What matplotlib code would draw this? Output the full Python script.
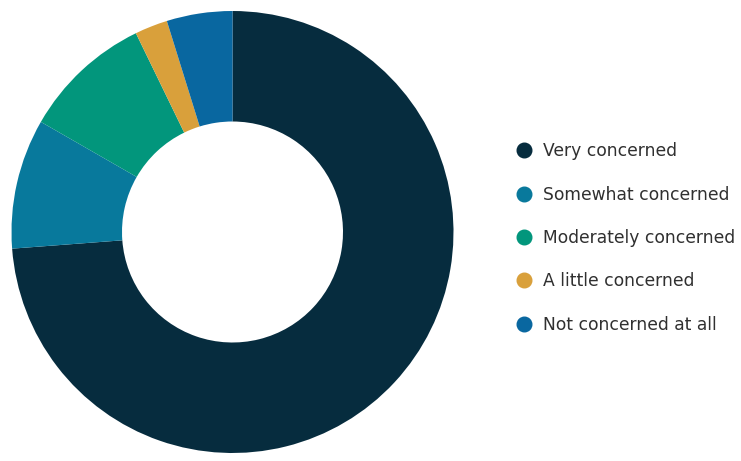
import matplotlib
matplotlib.use("Agg")
import matplotlib.pyplot as plt
from matplotlib.lines import Line2D

categories = ["Very concerned", "Somewhat concerned", "Moderately concerned",
              "A little concerned", "Not concerned at all"]
values = [73.8, 9.5, 9.5, 2.4, 4.8]
colors = ["#062c3e", "#08799c", "#02967c", "#d9a03b", "#0967a0"]

fig = plt.figure(figsize=(7.41, 4.61), dpi=100)
W, H = 741, 461
cx, cy, r = 232.5, 229, 221
ax = fig.add_axes([(cx - r) / W, (cy - r) / H, 2 * r / W, 2 * r / H])
ax.pie(values, colors=colors, startangle=90, counterclock=False, radius=1.0,
       wedgeprops=dict(width=0.5, edgecolor="none", linewidth=0))
ax.set_xlim(-1, 1)
ax.set_ylim(-1, 1)
ax.set_aspect("equal")
ax.axis("off")

handles = [Line2D([0], [0], marker="o", linestyle="none", markersize=10.5,
                  markerfacecolor=c, markeredgecolor=c) for c in colors]
leg = fig.legend(handles, categories, loc="center left",
                 bbox_to_anchor=(507 / W, 1 - 238 / H), frameon=False,
                 fontsize=12.3, labelspacing=1.48, handletextpad=0.6,
                 handlelength=1.0, borderpad=0)
for t in leg.get_texts():
    t.set_color("#303030")

fig.savefig("out.png", dpi=100)
